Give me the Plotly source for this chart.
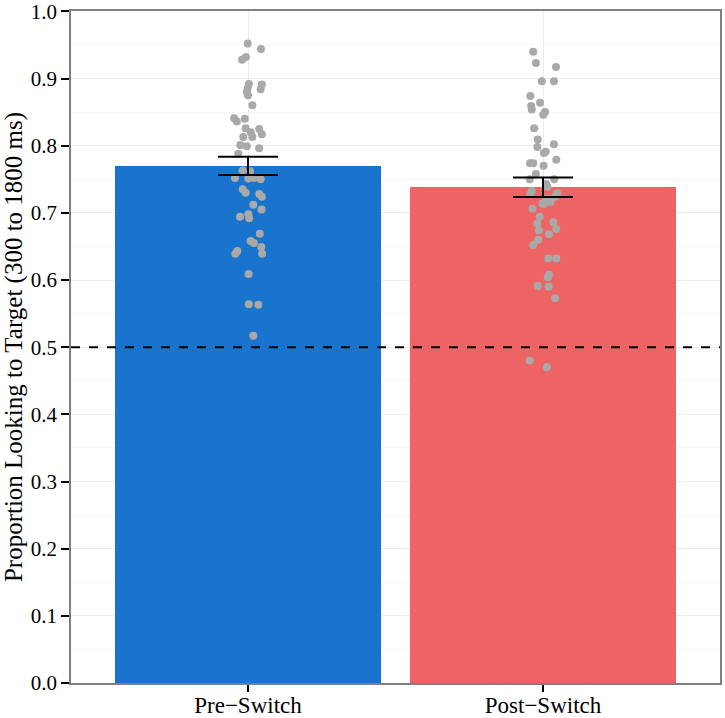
import plotly.graph_objects as go

categories = ["Pre\u2212Switch", "Post\u2212Switch"]
means = [0.770, 0.738]
se = [0.0135, 0.0145]

pre_values = [0.952, 0.944, 0.932, 0.928, 0.892, 0.891, 0.884, 0.886, 0.880, 0.875,
              0.860, 0.841, 0.840, 0.836, 0.826, 0.825, 0.820, 0.817, 0.813, 0.813,
              0.801, 0.799, 0.796, 0.788, 0.763, 0.762, 0.752, 0.751, 0.752, 0.750,
              0.735, 0.730, 0.728, 0.724, 0.712, 0.705, 0.694, 0.698, 0.692, 0.669,
              0.658, 0.655, 0.649, 0.639, 0.643, 0.639, 0.609, 0.564, 0.563, 0.517]
pre_jitter = [-0.001, 0.044, -0.007, -0.020, 0.003, 0.047, 0.043, -0.001, -0.004, 0.000,
              0.015, -0.047, -0.011, -0.038, -0.008, 0.038, 0.009, 0.047, -0.016, 0.015,
              -0.026, -0.004, 0.038, -0.033, -0.018, 0.007, -0.044, 0.001, 0.020, 0.043,
              -0.018, -0.008, 0.038, 0.047, 0.018, 0.046, -0.027, 0.001, 0.004, 0.040,
              0.009, 0.020, 0.045, 0.048, -0.036, -0.043, 0.002, 0.003, 0.035, 0.018]

post_values = [0.940, 0.923, 0.917, 0.896, 0.896, 0.874, 0.864, 0.859, 0.854, 0.850,
               0.846, 0.826, 0.809, 0.802, 0.798, 0.791, 0.789, 0.779, 0.774, 0.774,
               0.770, 0.758, 0.750, 0.750, 0.743, 0.739, 0.733, 0.728, 0.729, 0.724,
               0.721, 0.716, 0.713, 0.714, 0.706, 0.694, 0.684, 0.686, 0.676, 0.674,
               0.668, 0.660, 0.652, 0.632, 0.632, 0.608, 0.604, 0.591, 0.590, 0.573,
               0.480, 0.470]
post_jitter = [-0.033, -0.024, 0.044, -0.004, 0.037, -0.043, -0.010, -0.040, -0.038, 0.007,
               0.001, -0.030, -0.018, 0.037, -0.019, 0.009, 0.003, 0.045, -0.044, -0.033,
               0.002, -0.024, -0.045, 0.038, 0.011, 0.015, -0.038, -0.043, 0.048, 0.041,
               0.011, 0.026, 0.003, -0.002, -0.036, -0.011, -0.019, 0.035, 0.045, -0.014,
               0.020, -0.016, -0.033, 0.018, 0.045, 0.020, 0.016, -0.018, 0.019, 0.041,
               -0.045, 0.013]

chance = 0.5
bar_colors = ["#1874CD", "#EE6363"]
y_ticks = [0.0, 0.1, 0.2, 0.3, 0.4, 0.5, 0.6, 0.7, 0.8, 0.9, 1.0]

FONT = "Liberation Serif"

fig = go.Figure()
fig.add_trace(go.Bar(x=[0, 1], y=means, width=0.9, marker=dict(color=bar_colors, line=dict(width=0)),
                     showlegend=False))
fig.add_trace(go.Scatter(x=[0 + j for j in pre_jitter], y=pre_values, mode="markers",
                         marker=dict(size=8, color="#A9A9A9"), showlegend=False))
fig.add_trace(go.Scatter(x=[1 + j for j in post_jitter], y=post_values, mode="markers",
                         marker=dict(size=8, color="#A9A9A9"), showlegend=False))
fig.add_trace(go.Scatter(x=[0, 1], y=means, mode="markers", marker=dict(size=1, opacity=0),
                         error_y=dict(type="data", array=se, width=30, thickness=2, color="black"),
                         showlegend=False))

fig.add_shape(type="line", xref="paper", x0=0, x1=1, yref="y", y0=chance, y1=chance,
              line=dict(color="black", width=2, dash="dash"), layer="above")

fig.update_layout(
    width=725, height=718,
    margin=dict(l=71, r=5, t=11, b=35),
    paper_bgcolor="white", plot_bgcolor="white",
    font=dict(family=FONT, color="black", size=22),
    bargap=0,
    xaxis=dict(range=[-0.6, 1.6], tickmode="array", tickvals=[0, 1], ticktext=categories,
               showgrid=True, gridcolor="#EBEBEB", gridwidth=1, zeroline=False,
               showline=True, linecolor="#7F7F7F", linewidth=1.5, mirror=True,
               ticks="outside", ticklen=7, tickwidth=2, tickcolor="black",
               tickfont=dict(family=FONT, size=23, color="black"),
               ticklabelstandoff=-6,
               automargin=False),
    yaxis=dict(range=[0, 1.0005], tickmode="array", tickvals=y_ticks,
               ticktext=[f"{v:.1f}" for v in y_ticks],
               ticklabeloverflow="allow",
               showgrid=True, gridcolor="#EBEBEB", gridwidth=1, zeroline=False,
               minor=dict(dtick=0.05, showgrid=True, gridcolor="#F5F5F5", gridwidth=1, ticks=""),
               showline=True, linecolor="#7F7F7F", linewidth=1.5, mirror=True,
               ticks="outside", ticklen=8, tickwidth=2, tickcolor="black",
               tickfont=dict(family=FONT, size=21, color="black"),
               title=dict(text="Proportion Looking to Target (300 to 1800 ms)",
                          font=dict(family=FONT, size=25, color="black"), standoff=6),
               automargin=False),
)

fig.write_html("out.html", config={"displayModeBar": False},
               post_script="document.body.style.margin='0';document.body.style.overflow='hidden';")
